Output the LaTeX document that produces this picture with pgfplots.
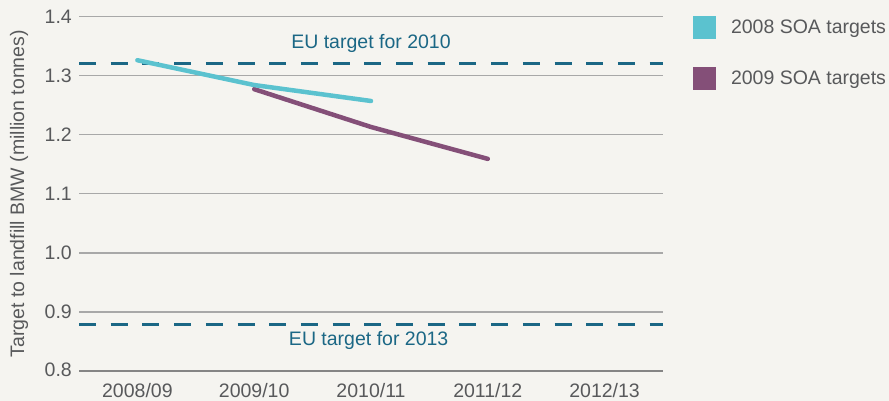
\documentclass[border=0pt]{standalone}
\usepackage{fontspec}
\setmainfont{Liberation Sans}
\usepackage{pgfplots}
\pgfplotsset{compat=1.18}
\definecolor{bg}{HTML}{F5F4F0}
\definecolor{cyanc}{HTML}{5BC2CF}
\definecolor{purp}{HTML}{844F78}
\definecolor{teal}{HTML}{1B6785}
\definecolor{txt}{HTML}{58595B}
\definecolor{gridc}{HTML}{A8A8A8}
\definecolor{axc}{HTML}{858585}
\newcommand{\f}{\fontsize{19.5}{23}\selectfont}
\begin{document}
\begin{tikzpicture}
\useasboundingbox (0,0) rectangle (889pt,401pt);
\fill[bg] (0,0) rectangle (889pt,401pt);
\begin{axis}[
  at={(79pt,30pt)}, anchor=south west,
  scale only axis, width=584pt, height=354.5pt,
  xmin=0, xmax=5, ymin=0.8, ymax=1.4,
  axis x line*=bottom, axis y line*=left,
  x axis line style={draw=axc, line width=2pt},
  y axis line style={draw=none},
  ytick={0.8,0.9,1.0,1.1,1.2,1.3,1.4},
  yticklabels={\raisebox{2pt}{0.8},0.9,1.0,1.1,1.2,\raisebox{-4pt}{1.3},\raisebox{-7pt}{1.4}},
  ytick style={draw=none},
  yticklabel style={anchor=east, inner sep=0pt, xshift=-7pt, font=\f, text=txt},
  ymajorgrids, grid style={draw=gridc, line width=1.5pt},
  xtick={0.5,1.5,2.5,3.5,4.5},
  xticklabels={2008/09,\raisebox{-2pt}{2009/10},\raisebox{1pt}{2010/11},\raisebox{-1pt}{2011/12},\raisebox{1pt}{2012/13}},
  xtick style={draw=none},
  xticklabel style={anchor=north, inner sep=0pt, yshift=-12pt, font=\f, text=txt},
  extra x ticks={1,2,3,4},
  extra x tick labels={},
  extra x tick style={tick style={draw=axc, line width=1.5pt}, major tick length=7pt, tick align=inside, grid=none},
  ylabel={Target to landfill BMW (million tonnes)},
  every axis y label/.style={at={(axis description cs:-0.1027,0.5)}, rotate=90, anchor=center, font=\f, text=txt},
  clip=false,
  legend image code/.code={\fill[#1] (0pt,-11.5pt) rectangle (23pt,11.5pt);},
  legend cell align=left,
  legend style={draw=none, fill=none, at={(axis description cs:1,1)}, anchor=north west, xshift=30pt, yshift=0.5pt,
    inner sep=0pt, outer sep=0pt, row sep=28pt,
    /tikz/every odd column/.append style={column sep=15pt},
    nodes={inner sep=0pt, text=txt, font=\f}},
]
\addlegendimage{fill=cyanc, draw=none}
\addlegendentry{2008 SOA targets}
\addlegendimage{fill=purp, draw=none}
\addlegendentry{2009 SOA targets}
\addplot[teal, line width=2.8pt, dash pattern=on 17pt off 14.7pt, forget plot] coordinates {(0,1.321) (5,1.321)};
\addplot[teal, line width=2.8pt, dash pattern=on 17pt off 14.7pt, forget plot] coordinates {(0,0.879) (5,0.879)};
\addplot[purp, line width=4.5pt, line cap=round, line join=round, forget plot] coordinates {(1.5,1.277) (2.5,1.213) (3.5,1.159)};
\addplot[cyanc, line width=4.5pt, line cap=round, line join=round, forget plot] coordinates {(0.5,1.326) (1.5,1.284) (2.5,1.257)};
\node[text=teal, font=\f] at (axis cs:2.5,1.355) {EU target for 2010};
\node[text=teal, font=\f] at (axis cs:2.48,0.852) {EU target for 2013};
\end{axis}
\end{tikzpicture}
\end{document}
